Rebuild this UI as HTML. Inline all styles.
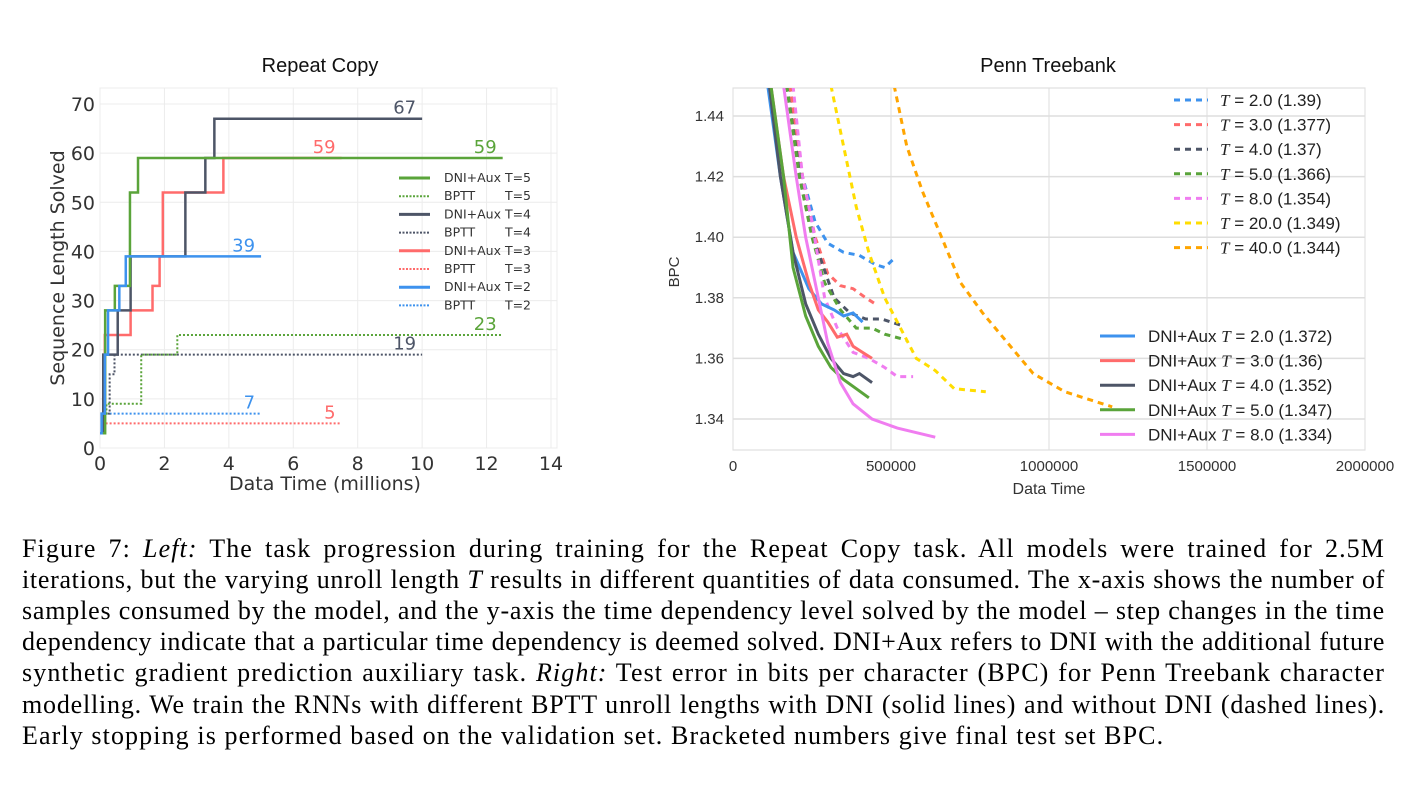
<!DOCTYPE html>
<html><head><meta charset="utf-8">
<style>
body{margin:0;width:1418px;height:788px;background:#fff;overflow:hidden;position:relative}
svg{position:absolute;left:0;top:0}
.cap{position:absolute;left:22px;width:1363px;font-family:"Liberation Serif",serif;font-size:26px;color:#000;text-align:justify;text-align-last:justify;white-space:nowrap;line-height:31px;letter-spacing:1.1px}
.cap.last{text-align-last:left}
</style></head><body>
<svg id="chart" width="1418" height="520"></svg>
<div class="cap" style="top:533px">Figure 7: <i>Left:</i> The task progression during training for the Repeat Copy task. All models were trained for 2.5M</div>
<div class="cap" style="top:564px">iterations, but the varying unroll length <i>T</i> results in different quantities of data consumed. The x-axis shows the number of</div>
<div class="cap" style="top:595px">samples consumed by the model, and the y-axis the time dependency level solved by the model – step changes in the time</div>
<div class="cap" style="top:626px">dependency indicate that a particular time dependency is deemed solved. DNI+Aux refers to DNI with the additional future</div>
<div class="cap" style="top:657px">synthetic gradient prediction auxiliary task. <i>Right:</i> Test error in bits per character (BPC) for Penn Treebank character</div>
<div class="cap" style="top:689px">modelling. We train the RNNs with different BPTT unroll lengths with DNI (solid lines) and without DNI (dashed lines).</div>
<div class="cap last" style="top:720px">Early stopping is performed based on the validation set. Bracketed numbers give final test set BPC.</div>
<script>
// ---- Left chart data (Repeat Copy): step series [x in millions, level]
const rcNames=["DNI+Aux T=5","BPTT T=5","DNI+Aux T=4","BPTT T=4","DNI+Aux T=3","BPTT T=3","DNI+Aux T=2","BPTT T=2"];
const rcG5=[[0,3],[0.16,10],[0.16,28],[0.46,33],[0.93,52],[1.18,59],[12.5,59]];
const rcG5b=[[0.05,7],[0.2,9],[1.28,19],[2.4,23],[12.5,23]];
const rcK4=[[0,3],[0.1,19],[0.55,28],[0.95,39],[2.65,52],[3.27,59],[3.55,67],[10,67]];
const rcK4b=[[0.05,5],[0.1,7],[0.3,15],[0.45,19],[10,19]];
const rcR3=[[0,3],[0.08,7],[0.15,23],[0.95,28],[1.63,33],[1.85,39],[1.95,52],[3.83,59],[7.5,59]];
const rcR3b=[[0.05,5],[7.5,5]];
const rcB2=[[0,3],[0.05,7],[0.15,19],[0.25,28],[0.6,33],[0.8,39],[5,39]];
const rcB2b=[[0.05,7],[5,7]];
const rcFinal=[59,23,67,19,59,5,39,7];
const rcXTicks=[0,2,4,6,8,10,12,14];
const rcYTicks=[0,10,20,30,40,50,60,70];
// ---- Right chart data (Penn Treebank): [x in thousands, BPC]
const ptDashNames=["2.0 (1.39)","3.0 (1.377)","4.0 (1.37)","5.0 (1.366)","8.0 (1.354)","20.0 (1.349)","40.0 (1.344)"];
const ptD2=[[180,1.45],[220,1.42],[260,1.405],[300,1.398],[350,1.395],[400,1.394],[450,1.391],[480,1.39],[510,1.393]];
const ptD3=[[180,1.45],[220,1.42],[260,1.4],[300,1.388],[340,1.384],[380,1.383],[420,1.38],[450,1.378]];
const ptD4=[[170,1.45],[220,1.415],[260,1.398],[320,1.38],[370,1.375],[420,1.373],[470,1.373],[530,1.371]];
const ptD5=[[170,1.45],[210,1.42],[250,1.4],[290,1.385],[340,1.376],[390,1.37],[440,1.37],[480,1.368],[550,1.366]];
const ptD8=[[190,1.45],[220,1.42],[250,1.405],[290,1.38],[330,1.37],[380,1.362],[430,1.36],[480,1.357],[520,1.354],[570,1.354]];
const ptD20=[[310,1.45],[350,1.43],[390,1.41],[430,1.395],[480,1.38],[530,1.37],[580,1.36],[640,1.356],[700,1.35],[800,1.349]];
const ptD40=[[510,1.45],[550,1.43],[600,1.415],[660,1.4],[720,1.385],[790,1.375],[870,1.365],[950,1.355],[1050,1.349],[1200,1.344]];
const ptSolidNames=["2.0 (1.372)","3.0 (1.36)","4.0 (1.352)","5.0 (1.347)","8.0 (1.334)"];
const ptS2=[[110,1.45],[150,1.42],[190,1.395],[240,1.383],[280,1.378],[320,1.376],[350,1.374],[380,1.375],[410,1.372]];
const ptS3=[[120,1.45],[160,1.42],[200,1.4],[240,1.385],[270,1.376],[300,1.372],[330,1.367],[360,1.368],[380,1.364],[410,1.362],[440,1.36]];
const ptS4=[[115,1.45],[150,1.42],[190,1.395],[230,1.378],[270,1.368],[310,1.36],[350,1.355],[380,1.354],[400,1.355],[440,1.352]];
const ptS5=[[120,1.45],[160,1.42],[190,1.39],[230,1.374],[270,1.364],[310,1.357],[350,1.353],[390,1.35],[430,1.347]];
const ptS8=[[160,1.45],[200,1.42],[230,1.4],[260,1.385],[300,1.365],[340,1.352],[380,1.345],[440,1.34],[520,1.337],[640,1.334]];
const ptXTicks=[0,500000,1000000,1500000,2000000];
const ptYTicks=[1.34,1.36,1.38,1.40,1.42,1.44];

const NS="http://www.w3.org/2000/svg";
const svg=document.getElementById('chart');
function mk(tag,attrs,parent){const e=document.createElementNS(NS,tag);for(const k in attrs)e.setAttribute(k,attrs[k]);(parent||svg).appendChild(e);return e;}
function txt(s,attrs,parent){const e=mk('text',attrs,parent);e.textContent=s;return e;}
const SANS='"DejaVu Sans","Liberation Sans",sans-serif';

// ===== Left chart =====
const L={x0:100,x1:557,y0:448,y1:88};
const lx=v=>L.x0+v*(551-100)/14, ly=v=>448-v*(448-104)/70;
const lg=mk('g',{});

mk('rect',{x:L.x0,y:L.y1,width:L.x1-L.x0,height:L.y0-L.y1,fill:'#fff',stroke:'#ececec'},lg);
rcXTicks.forEach(t=>{mk('line',{x1:lx(t),x2:lx(t),y1:L.y1,y2:L.y0,stroke:'#ececec'},lg);
 const e=txt(t,{x:lx(t),y:470,'font-size':19,'text-anchor':'middle',fill:'#333','font-family':SANS},lg);
 });
rcYTicks.forEach(t=>{mk('line',{x1:L.x0,x2:L.x1,y1:ly(t),y2:ly(t),stroke:'#ececec'},lg);
 const e=txt(t,{x:95,y:ly(t)+7,'font-size':19,'text-anchor':'end',fill:'#333','font-family':SANS},lg);
 });
let e=txt('Repeat Copy',{x:320,y:72,'font-size':20,'text-anchor':'middle',fill:'#111','font-family':'"Liberation Sans",sans-serif'},lg);

e=txt('Data Time (millions)',{x:325,y:490,'font-size':19,'text-anchor':'middle',fill:'#333','font-family':SANS},lg);

e=txt('Sequence Length Solved',{x:0,y:0,'font-size':19,'text-anchor':'middle',fill:'#333','font-family':SANS,transform:'translate(64,268) rotate(-90)'},lg);

function stepPath(pts){let d='';pts.forEach((p,i)=>{if(i==0)d+='M'+lx(p[0])+','+ly(p[1]);else{d+='L'+lx(p[0])+','+ly(pts[i-1][1])+'L'+lx(p[0])+','+ly(p[1]);}});return d;}
const rcSeries=[rcG5,rcG5b,rcK4,rcK4b,rcR3,rcR3b,rcB2,rcB2b];
const rcCols=['#5aa43a','#5aa43a','#4d5567','#4d5567','#ff6b6b','#ff6b6b','#3d92ee','#3d92ee'];
const rcOrder=[5,7,3,1,4,2,0,6];
rcOrder.forEach(i=>{const dotted=i%2==1;
 const p=mk('path',{d:stepPath(rcSeries[i]),fill:'none',stroke:rcCols[i],'stroke-width':dotted?2:2.5,'stroke-dasharray':dotted?'2,2':'none'},lg);
 
 const last=rcSeries[i][rcSeries[i].length-1];
 const t=txt(rcFinal[i],{x:lx(last[0])-6,y:ly(last[1])-5,'font-size':18,'text-anchor':'end',fill:rcCols[i],'font-family':SANS},lg);
 });
rcNames.forEach((n,i)=>{const y=178+i*18.2,dotted=i%2==1;
 const g=mk('g',{},lg);
 mk('line',{x1:399,x2:430,y1:y,y2:y,stroke:rcCols[i],'stroke-width':dotted?2:3,'stroke-dasharray':dotted?'2,1.5':'none'},g);
 const parts=n.split(' ');
 txt(parts[0],{x:444,y:y+4,'font-size':12.5,fill:'#333','font-family':SANS},g);
 txt(parts[1],{x:531,y:y+4,'font-size':12.5,fill:'#333','font-family':SANS,'text-anchor':'end'},g);});

// ===== Right chart =====
const R={x0:733,x1:1365,y0:450,y1:88};
const rx=v=>733+v*(1365-733)/2000000, ry=v=>116+(1.44-v)*(419-116)/0.1;
const rg=mk('g',{});

mk('rect',{x:R.x0,y:R.y1,width:R.x1-R.x0,height:R.y0-R.y1,fill:'#fff',stroke:'#d8d8d8'},rg);
ptXTicks.forEach(t=>{mk('line',{x1:rx(t),x2:rx(t),y1:R.y1,y2:R.y0,stroke:'#dedede'},rg);
 const e=txt(t,{x:rx(t),y:471,'font-size':15,'text-anchor':'middle',fill:'#333','font-family':'"Liberation Sans",sans-serif'},rg);
 });
ptYTicks.forEach(t=>{mk('line',{x1:R.x0,x2:R.x1,y1:ry(t),y2:ry(t),stroke:'#dedede','stroke-width':1.5},rg);
 const e=txt(t.toFixed(2),{x:724,y:ry(t)+5,'font-size':15,'text-anchor':'end',fill:'#333','font-family':'"Liberation Sans",sans-serif'},rg);
 });
e=txt('Penn Treebank',{x:1048,y:72,'font-size':20,'text-anchor':'middle',fill:'#111','font-family':'"Liberation Sans",sans-serif'},rg);

e=txt('Data Time',{x:1049,y:494,'font-size':16,'text-anchor':'middle',fill:'#333','font-family':'"Liberation Sans",sans-serif'},rg);

e=txt('BPC',{x:0,y:0,'font-size':15,'text-anchor':'middle',fill:'#333','font-family':'"Liberation Sans",sans-serif',transform:'translate(679,272) rotate(-90)'},rg);

const defs=mk('defs',{},rg);const cp=mk('clipPath',{id:'rclip'},defs);
mk('rect',{x:R.x0,y:R.y1,width:R.x1-R.x0,height:R.y0-R.y1},cp);
const plotG=mk('g',{'clip-path':'url(#rclip)'},rg);
function linePath(pts){return pts.map((p,i)=>(i?'L':'M')+rx(p[0]*1000)+','+ry(p[1])).join('');}
const dashS=[ptD2,ptD3,ptD4,ptD5,ptD8,ptD20,ptD40];
const dashC=['#3d92ee','#ff6b6b','#4d5567','#5aa43a','#f07df0','#ffdd00','#ffa500'];
dashS.forEach((s,i)=>{const p=mk('path',{d:linePath(s),fill:'none',stroke:dashC[i],'stroke-width':3,'stroke-dasharray':'6,5'},plotG);
 });
const solidS=[ptS2,ptS3,ptS4,ptS5,ptS8];
const solidC=['#3d92ee','#ff6b6b','#4d5567','#5aa43a','#f07df0'];
solidS.forEach((s,i)=>{const p=mk('path',{d:linePath(s),fill:'none',stroke:solidC[i],'stroke-width':3},plotG);
 });
const TF='"Liberation Sans",sans-serif';
ptDashNames.forEach((n,i)=>{const y=100+i*24.6;
 const g=mk('g',{},rg);
 mk('line',{x1:1174,x2:1208,y1:y,y2:y,stroke:dashC[i],'stroke-width':3,'stroke-dasharray':'6,5'},g);
 const t=txt('',{x:1220,y:y+6,'font-size':17,fill:'#222','font-family':TF},g);
 const it=mk('tspan',{'font-style':'italic','font-family':'"Liberation Serif",serif'},t);it.textContent='T';
 const r=mk('tspan',{},t);r.textContent=' = '+n;});
ptSolidNames.forEach((n,i)=>{const y=336+i*24.6;
 const g=mk('g',{},rg);
 mk('line',{x1:1100,x2:1135,y1:y,y2:y,stroke:solidC[i],'stroke-width':3},g);
 const t=txt('DNI+Aux ',{x:1148,y:y+6,'font-size':17,fill:'#222','font-family':TF},g);
 const it=mk('tspan',{'font-style':'italic','font-family':'"Liberation Serif",serif'},t);it.textContent='T';
 const r=mk('tspan',{},t);r.textContent=' = '+n;});

// fit caption lines so none overflow
document.querySelectorAll('.cap').forEach(c=>{let ls=1.1;
 while(c.scrollWidth>1363&&ls>-2){ls-=0.1;c.style.letterSpacing=ls+'px';}});
</script>
</body></html>
